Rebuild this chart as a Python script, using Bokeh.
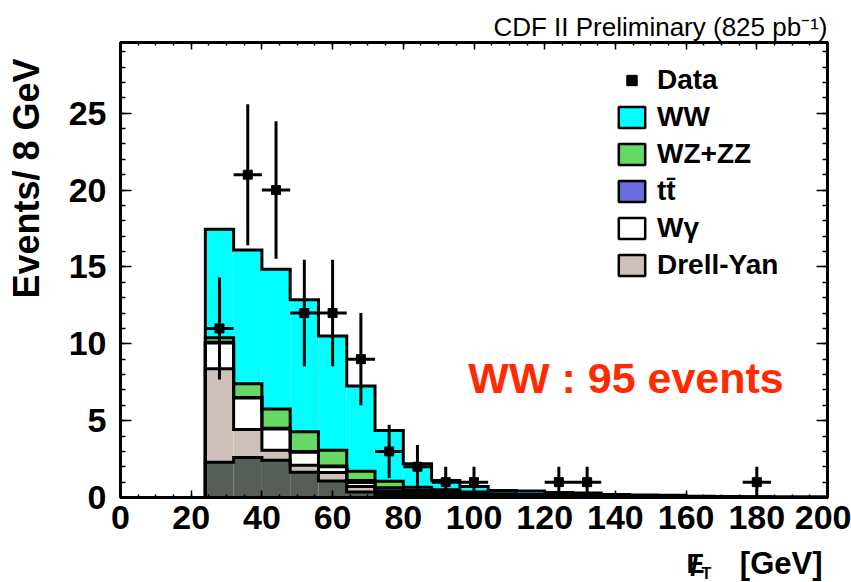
import numpy as np
from bokeh.plotting import figure
from bokeh.layouts import gridplot
from bokeh.models import (Range1d, SingleIntervalTicker, LinearAxis, Label,
                          Legend, LegendItem, Title, CustomJSTickFormatter)
from bokeh.embed import file_html
from bokeh.resources import INLINE

# ---------------- data ----------------
bin_edges = list(range(0, 208, 8))           # 0 ... 200, 8 GeV bins
# stacked MC contributions per bin (events / 8 GeV)
fakes = [0, 0, 0, 2.30, 2.60, 2.43, 1.65, 1.08, 0.35, 0.15, 0.05, 0.03, 0.02,
         0.01, 0.01, 0, 0, 0, 0, 0, 0, 0, 0, 0, 0]
drell_yan = [0, 0, 0, 6.08, 1.83, 0.65, 0.45, 0.54, 0.37, 0.15, 0.15, 0.07, 0.06,
             0.04, 0.03, 0.03, 0.03, 0.02, 0.02, 0.01, 0, 0, 0, 0, 0]
w_gamma = [0, 0, 0, 1.67, 2.04, 1.38, 0.85, 0.38, 0.26, 0.12, 0.10, 0.10, 0.07,
           0.05, 0.04, 0.03, 0.02, 0.02, 0.01, 0.01, 0.01, 0.01, 0.01, 0, 0]
ttbar = [0, 0, 0, 0.05, 0.03, 0.04, 0.05, 0.05, 0.12, 0.21, 0.15, 0.13, 0.07,
         0.05, 0.04, 0.04, 0.04, 0.03, 0.02, 0.02, 0.01, 0.01, 0, 0.01, 0.01]
wz_zz = [0, 0, 0, 0.30, 0.90, 1.26, 1.27, 1.02, 0.61, 0.43, 0.22, 0.17, 0.13,
         0.10, 0.08, 0.05, 0.04, 0.03, 0.03, 0.02, 0.02, 0.01, 0.01, 0.01, 0]
ww = [0, 0, 0, 7.05, 8.70, 9.09, 8.60, 7.43, 5.54, 3.30, 1.53, 0.60, 0.37,
      0.20, 0.22, 0.17, 0.17, 0.10, 0.09, 0.08, 0.04, 0.03, 0.03, 0.02, 0.02]

data_x = [28, 36, 44, 52, 60, 68, 76, 84, 92, 100, 124, 132, 180]
data_y = [11, 21, 20, 12, 12, 9, 3, 2, 1, 1, 1, 1, 1]

x_ticks_interval = 20
y_ticks_interval = 5

layers = [
    (fakes, "#575d57", None),
    (drell_yan, "#cdc0b8", "Drell-Yan"),
    (w_gamma, "#ffffff", "W\u03b3"),
    (ttbar, "#6b6be0", "tt\u0304"),
    (wz_zz, "#66d865", "WZ+ZZ"),
    (ww, "#00ffff", "WW"),
]

lab_font = "Liberation Sans"


def blank_fig(**kw):
    f = figure(output_backend="svg", toolbar_location=None, **kw)
    f.axis.visible = False
    f.xgrid.visible = False
    f.ygrid.visible = False
    f.outline_line_color = None
    f.background_fill_color = "white"
    f.border_fill_color = "white"
    return f


# ---------------- main figure ----------------
p = figure(width=803, height=545, output_backend="svg", toolbar_location=None,
           x_range=Range1d(0, 200), y_range=Range1d(0, 29.6),
           min_border_left=72, min_border_right=24, min_border_top=42,
           min_border_bottom=48)
p.background_fill_color = "white"
p.border_fill_color = "white"
p.xgrid.visible = False
p.ygrid.visible = False
p.outline_line_color = "black"
p.outline_line_width = 3

left = np.array(bin_edges[:-1], dtype=float)
right = np.array(bin_edges[1:], dtype=float)
bottom = np.zeros(len(left))
tops = []
for vals, col, _ in layers:
    top = bottom + np.array(vals, dtype=float)
    p.quad(left=left, right=right, bottom=bottom, top=top,
           fill_color=col, line_color=None)
    tops.append(top)
    bottom = top

for top in tops:
    p.step(x=bin_edges, y=list(top) + [top[-1]], mode="after",
           line_color="black", line_width=3, line_join="miter")

# data points with Poisson errors
dx = np.array(data_x, dtype=float)
dy = np.array(data_y, dtype=float)
err = np.sqrt(dy)
p.segment(x0=dx, y0=dy - err, x1=dx, y1=dy + err, line_color="black", line_width=3)
p.segment(x0=dx - 4, y0=dy, x1=dx + 4, y1=dy, line_color="black", line_width=3)
p.scatter(dx, dy, marker="square", size=9, color="black")

# ---------------- axes ----------------
for ax in p.xaxis:
    ax.ticker = SingleIntervalTicker(interval=x_ticks_interval, num_minor_ticks=4)
    ax.major_tick_in = 7
    ax.major_tick_out = 0
    ax.minor_tick_in = 3
    ax.minor_tick_out = 0
    ax.major_tick_line_width = 1.5
    ax.minor_tick_line_width = 1.5
    ax.axis_line_width = 3
    ax.major_label_text_font = lab_font
    ax.major_label_text_font_style = "bold"
    ax.major_label_text_font_size = "34px"
    ax.major_label_text_color = "black"
    ax.major_label_standoff = 8
for ax in p.yaxis:
    ax.ticker = SingleIntervalTicker(interval=y_ticks_interval, num_minor_ticks=5)
    ax.major_tick_in = 11
    ax.major_tick_out = 0
    ax.minor_tick_in = 5
    ax.minor_tick_out = 0
    ax.major_tick_line_width = 1.5
    ax.minor_tick_line_width = 1.5
    ax.axis_line_width = 3
    ax.major_label_text_font = lab_font
    ax.major_label_text_font_style = "bold"
    ax.major_label_text_font_size = "34px"
    ax.major_label_text_color = "black"
    ax.major_label_standoff = 14

blank = CustomJSTickFormatter(code="return ''")
top_ax = LinearAxis(ticker=SingleIntervalTicker(interval=x_ticks_interval, num_minor_ticks=4),
                    formatter=blank,
                    major_tick_in=7, major_tick_out=0, minor_tick_in=3, minor_tick_out=0,
                    major_tick_line_width=1.5, minor_tick_line_width=1.5,
                    axis_line_width=3, major_label_standoff=0)
p.add_layout(top_ax, "above")
right_ax = LinearAxis(ticker=SingleIntervalTicker(interval=y_ticks_interval, num_minor_ticks=5),
                      formatter=blank,
                      major_tick_in=11, major_tick_out=0, minor_tick_in=5, minor_tick_out=0,
                      major_tick_line_width=1.5, minor_tick_line_width=1.5,
                      axis_line_width=3, major_label_standoff=0)
p.add_layout(right_ax, "right")

# ---------------- titles / texts ----------------
p.add_layout(Title(text="CDF II Preliminary (825 pb\u207b\u00b9)", align="right",
                   text_font=lab_font, text_font_style="normal",
                   text_font_size="26px", text_color="black", standoff=2), "above")

p.add_layout(Label(x=98.4, y=7.8, text="WW : 95 events", text_align="left",
                   text_baseline="middle", text_font=lab_font,
                   text_font_style="bold", text_font_size="43px", text_color="#ff2a00"))

# ---------------- legend ----------------
items = []
data_leg = p.scatter(x=[-100], y=[-100], marker="square", size=7, color="black")
items.append(LegendItem(label="Data", renderers=[data_leg]))
for vals, col, name in reversed(layers):
    if name is None:
        continue
    r = p.quad(left=[-100], right=[-90], bottom=[-100], top=[-90], fill_color=col,
               line_color="black", line_width=2.5)
    items.append(LegendItem(label=name, renderers=[r]))

legend = Legend(items=items, location=(495, 216), border_line_color=None,
                background_fill_alpha=0, padding=0, margin=0, spacing=5,
                glyph_width=33, glyph_height=26, label_height=26,
                label_standoff=9, label_text_font=lab_font,
                label_text_font_style="bold", label_text_font_size="28px",
                label_text_baseline="middle", label_text_color="black")
p.add_layout(legend)

# ---------------- y-axis title strip ----------------
ylab = blank_fig(width=48, height=545, x_range=Range1d(0, 48), y_range=Range1d(0, 455),
                 min_border_left=0, min_border_right=0, min_border_top=42,
                 min_border_bottom=48)
ylab.add_layout(Label(x=26, y=439, text="Events/ 8 GeV", angle=np.pi / 2,
                      text_align="right", text_baseline="middle", text_font=lab_font,
                      text_font_style="bold", text_font_size="36px", text_color="black"))

# ---------------- x-axis title strip (E-slash_T [GeV]) ----------------
xlab = blank_fig(width=803, height=37, x_range=Range1d(120, 827), y_range=Range1d(0, 37),
                 min_border_left=72, min_border_right=24, min_border_top=0,
                 min_border_bottom=0)
xlab.add_layout(Label(x=686, y=19, text="E", text_align="left",
                      text_baseline="middle", text_font=lab_font,
                      text_font_style="bold", text_font_size="27px", text_color="black"))
xlab.add_layout(Label(x=694, y=17, text="/", text_align="center",
                      text_baseline="middle", text_font=lab_font,
                      text_font_style="bold", text_font_size="30px", text_color="black"))
xlab.add_layout(Label(x=701, y=9.5, text="T", text_align="left",
                      text_baseline="middle", text_font=lab_font,
                      text_font_style="bold", text_font_size="16px", text_color="black"))
xlab.add_layout(Label(x=822, y=19, text="[GeV]", text_align="right",
                      text_baseline="middle", text_font=lab_font,
                      text_font_style="bold", text_font_size="31px", text_color="black"))

grid = gridplot([[ylab, p], [None, xlab]], toolbar_location=None)
open("out.html", "w").write(file_html(grid, INLINE))
